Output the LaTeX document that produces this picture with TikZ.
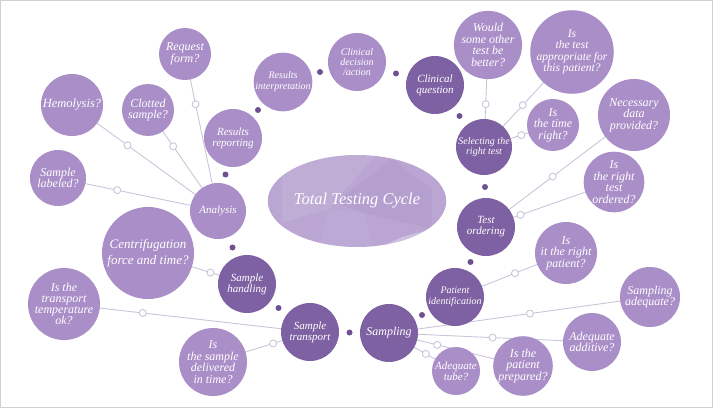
\documentclass[tikz,border=0pt]{standalone}
\usepackage{fontspec}
\setmainfont{Liberation Serif}
\usetikzlibrary{calc, backgrounds, shapes.geometric}
\definecolor{tcDark}{HTML}{7E61A2}
\definecolor{tcLight}{HTML}{AA8EC8}
\definecolor{tcCore}{HTML}{BAA5D3}
\definecolor{tcLine}{HTML}{CBC5DA}
\definecolor{tcDot}{HTML}{6F5191}
\definecolor{tcFrame}{HTML}{D0D0D0}
\newcommand{\bubblefont}[2]{\itshape\fontsize{#1}{#2}\selectfont}
\tikzset{
  cyclenode/.style = {circle, fill=tcDark, text=white, inner sep=0pt, align=center,
                      minimum size=58pt, font=\bubblefont{11}{11}},
  softnode/.style  = {cyclenode, fill=tcLight},
  qnode/.style     = {softnode, minimum size=#1, font=\bubblefont{12}{11.5}},
  link/.style      = {tcLine, line width=0.9pt},
  ring/.style      = {circle, draw=tcLine, fill=white, line width=0.9pt,
                      inner sep=0pt, minimum size=7pt},
  cycledot/.style  = {circle, fill=tcDot, inner sep=0pt, minimum size=6pt},
  outerframe/.style = {tcFrame, line width=1pt},
}

\begin{document}
\begin{tikzpicture}[x=1pt,y=-1pt]
  \useasboundingbox (0,0) rectangle (714,409);
  \draw[outerframe] (0.5,0.5) rectangle (712.5,407.5);

  % centre
  \node[ellipse, fill=tcCore, minimum width=144pt, minimum height=92pt, inner sep=0pt,
        text=white, font=\bubblefont{16.5}{16.5},
        path picture={
          \coordinate (e) at (path picture bounding box.center);
          \fill[white, opacity=.09] ($(e)+(-75,-50)$) -- ($(e)+(22,-50)$) -- ($(e)+(-28,8)$) -- ($(e)+(-75,22)$) -- cycle;
          \fill[tcDark, opacity=.08] ($(e)+(35,-42)$) -- ($(e)+(75,-12)$) -- ($(e)+(75,28)$) -- ($(e)+(8,12)$) -- ($(e)+(-22,2)$) -- cycle;
          \fill[white, opacity=.05] ($(e)+(-28,8)$) -- ($(e)+(8,12)$) -- ($(e)+(15,50)$) -- ($(e)+(-40,50)$) -- cycle;
          \fill[white, opacity=.3] ($(e)+(15,50)$) -- ($(e)+(45,36)$) -- ($(e)+(75,28)$) -- ($(e)+(75,50)$) -- cycle;
        }] (ttc) at (357,201) {Total Testing Cycle};

  % cycle
  \node[cyclenode] (cq) at (435,85) {Clinical\\question};
  \node[cyclenode, minimum size=56pt, font=\bubblefont{10}{10}] (srt) at (484,147) {Selecting the\\right test};
  \node[cyclenode] (tor) at (486,227) {Test\\ordering};
  \node[cyclenode, font=\bubblefont{10}{11}] (pid) at (455,297) {Patient\\identification};
  \node[cyclenode, font=\bubblefont{12}{12}] (smp) at (389,333) {Sampling};
  \node[cyclenode] (str) at (310,332) {Sample\\transport};
  \node[cyclenode] (shd) at (247,284) {Sample\\handling};
  \node[softnode, minimum size=56pt] (ana) at (218,211) {Analysis};
  \node[softnode] (rrp) at (233,138) {Results\\reporting};
  \node[softnode, font=\bubblefont{10}{11}] (rin) at (283,82) {Results\\interpretation};
  \node[softnode, font=\bubblefont{10}{10}] (cda) at (357,62) {Clinical\\decision\\/action};

  \node[cycledot] (d1) at ($(rin)!.5!(cda)$) {};
  \node[cycledot] (d2) at ($(cda)!.5!(cq)$) {};
  \node[cycledot] (d3) at ($(cq)!.5!(srt)$) {};
  \node[cycledot] (d4) at ($(srt)!.5!(tor)$) {};
  \node[cycledot] (d5) at ($(tor)!.5!(pid)$) {};
  \node[cycledot] (d6) at ($(pid)!.5!(smp)$) {};
  \node[cycledot] (d7) at ($(smp)!.5!(str)$) {};
  \node[cycledot] (d8) at ($(str)!.5!(shd)$) {};
  \node[cycledot] (d9) at ($(shd)!.5!(ana)$) {};
  \node[cycledot] (d10) at ($(ana)!.5!(rrp)$) {};
  \node[cycledot] (d11) at ($(rrp)!.5!(rin)$) {};

  % questions
  \node[qnode=52pt] (qreq) at (185,54) {Request\\form?};
  \node[qnode=62pt, font=\bubblefont{12.5}{12}] (qhem) at (72,105) {Hemolysis?};
  \node[qnode=52pt] (qclt) at (148,110) {Clotted\\sample?};
  \node[qnode=56pt] (qlab) at (58,178) {Sample\\labeled?};
  \node[qnode=92pt, font=\bubblefont{13}{16}] (qcen) at (148,253) {Centrifugation\\force and time?};
  \node[qnode=72pt, font=\bubblefont{12}{11}] (qtmp) at (64,304) {Is the\\transport\\temperature\\ok?};
  \node[qnode=68pt] (qdel) at (213,362) {Is\\the sample\\delivered\\in time?};
  \node[qnode=60pt] (qbet) at (488,45) {Would\\some other\\test be\\better?};
  \node[qnode=78pt, font=\bubblefont{11.5}{11.5}] (qapp) at (572,52) {Is\\the test\\appropriate for\\this patient?};
  \node[qnode=52pt] (qtim) at (553,125) {Is\\the time\\right?};
  \node[qnode=72pt] (qdat) at (634,115) {Necessary\\data\\provided?};
  \node[qnode=60pt] (qord) at (614,182) {Is\\the right\\test\\ordered?};
  \node[qnode=62pt] (qpat) at (566,253) {Is\\it the right\\patient?};
  \node[qnode=60pt] (qsad) at (650,297) {Sampling\\adequate?};
  \node[qnode=58pt] (qadd) at (592,342) {Adequate\\additive?};
  \node[qnode=58pt] (qprp) at (523,366) {Is the\\patient\\prepared?};
  \node[qnode=48pt, font=\bubblefont{11}{11}] (qtub) at (456,371) {Adequate\\tube?};

  \begin{pgfonlayer}{background}
    \draw[link] (qreq.center) -- node[ring, pos=.32] (r1) {} (ana.center);
    \draw[link] (qhem.center) -- node[ring, pos=.38] (r2) {} (ana.center);
    \draw[link] (qclt.center) -- node[ring, pos=.36] (r3) {} (ana.center);
    \draw[link] (qlab.center) -- node[ring, pos=.37] (r4) {} (ana.center);
    \draw[link] (qcen.center) -- node[ring, pos=.63] (r5) {} (shd.center);
    \draw[link] (qtmp.center) -- node[ring, pos=.32] (r6) {} (str.center);
    \draw[link] (qdel.center) -- node[ring, pos=.62] (r7) {} (str.center);
    \draw[link] (qbet.center) -- node[ring, pos=.58] (r8) {} (srt.center);
    \draw[link] (qapp.center) -- node[ring, pos=.56] (r9) {} (srt.center);
    \draw[link] (qtim.center) -- node[ring, pos=.46] (r10) {} (srt.center);
    \draw[link] (qdat.center) -- node[ring, pos=.55] (r11) {} (tor.center);
    \draw[link] (qord.center) -- node[ring, pos=.73] (r12) {} (tor.center);
    \draw[link] (qpat.center) -- node[ring, pos=.46] (r13) {} (pid.center);
    \draw[link] (qsad.center) -- node[ring, pos=.46] (r14) {} (smp.center);
    \draw[link] (qadd.center) -- node[ring, pos=.49] (r15) {} (smp.center);
    \draw[link] (qprp.center) -- node[ring, pos=.64] (r16) {} (smp.center);
    \draw[link] (qtub.center) -- node[ring, pos=.45] (r17) {} (smp.center);
  \end{pgfonlayer}
\end{tikzpicture}
\end{document}
